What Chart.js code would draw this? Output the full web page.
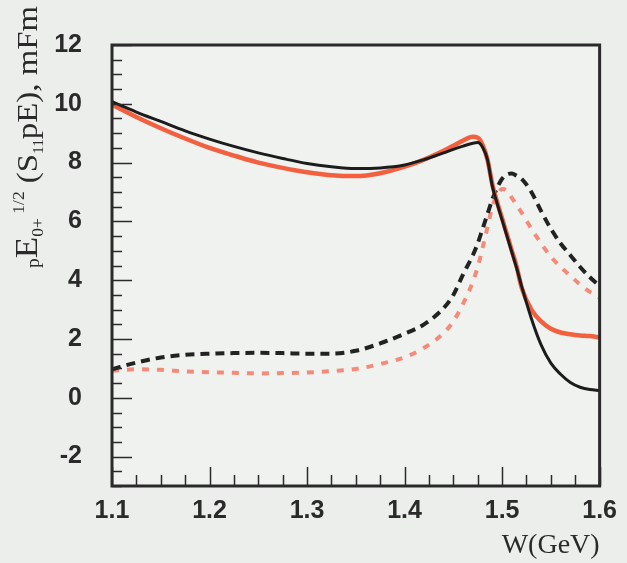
<!DOCTYPE html>
<html lang="en">
<head>
<meta charset="UTF-8">
<title>E0+ multipole near the S11 resonance</title>
<style>
  body{margin:0;background:#eceeec}
  #wrap{width:627px;height:563px}
</style>
<script src="https://cdn.jsdelivr.net/npm/chart.js"></script>
</head>
<body>
<div id="wrap"><canvas id="c"></canvas></div>
<script>
// W in GeV, shared by all four curves
const W = [1.10,1.125,1.15,1.175,1.20,1.225,1.25,1.275,1.30,1.325,1.35,1.375,1.40,1.42,1.44,1.45,1.46,1.47,1.475,1.48,1.485,1.49,1.495,1.50,1.505,1.51,1.515,1.52,1.53,1.54,1.55,1.56,1.57,1.58,1.59,1.60];

// solid = real part, dashed = imaginary part (mFm)
const blackSolid = [10.07,9.72,9.40,9.08,8.80,8.55,8.33,8.14,7.97,7.86,7.80,7.82,7.92,8.10,8.33,8.45,8.56,8.66,8.68,8.52,8.10,7.20,6.60,6.05,5.50,4.95,4.40,3.80,2.70,1.80,1.18,0.80,0.52,0.36,0.28,0.25];
const redSolid   = [9.97,9.55,9.17,8.82,8.50,8.24,8.00,7.82,7.67,7.57,7.54,7.64,7.86,8.10,8.40,8.57,8.75,8.88,8.85,8.60,8.10,7.25,6.65,6.10,5.55,5.00,4.45,3.75,3.00,2.60,2.35,2.22,2.16,2.12,2.10,2.05];
const blackDash  = [0.97,1.20,1.37,1.46,1.50,1.52,1.53,1.52,1.50,1.50,1.60,1.85,2.18,2.50,3.05,3.50,4.20,4.85,5.25,5.75,6.25,6.75,7.15,7.45,7.60,7.63,7.55,7.45,7.00,6.35,5.75,5.25,4.85,4.45,4.10,3.80];
const redDash    = [0.92,0.97,0.95,0.90,0.87,0.85,0.83,0.84,0.86,0.91,0.98,1.15,1.38,1.70,2.20,2.60,3.20,3.95,4.45,5.10,5.80,6.50,6.90,7.10,7.05,6.80,6.55,6.30,5.75,5.25,4.80,4.45,4.15,3.85,3.60,3.40];

const xTicks = [1.1,1.2,1.3,1.4,1.5,1.6];
const yTicks = [-2,0,2,4,6,8,10,12];

const pts = ys => W.map((w,i) => ({x:w, y:ys[i]}));

const INK = '#2a2a2a';

// plot background, frame, inward ticks and the y axis title
const framePlugin = {
  id: 'frame',
  beforeDatasetsDraw(chart){
    const {ctx, chartArea:a} = chart;
    ctx.save();
    ctx.fillStyle = '#f0f2f0';
    ctx.fillRect(a.left, a.top, a.right-a.left, a.bottom-a.top);
    ctx.restore();
  },
  afterDraw(chart){
    const {ctx, chartArea:a, scales:{x, y}} = chart;
    ctx.save();
    ctx.strokeStyle = INK;
    ctx.lineWidth = 1.5;
    // y ticks every 0.5, long ones on labelled values
    for (let i = 0; i <= 30; i++) {
      const v = -3 + i*0.5;
      const py = Math.round(y.getPixelForValue(v)) + 0.5;
      const len = (v % 2 === 0) ? 20 : 10;
      ctx.beginPath(); ctx.moveTo(a.left, py); ctx.lineTo(a.left+len, py); ctx.stroke();
    }
    // x ticks every 0.025
    for (let i = 0; i <= 20; i++) {
      const v = 1.1 + i*0.025;
      const px = Math.round(x.getPixelForValue(v)) + 0.5;
      const len = (i % 4 === 0) ? 19 : 11;
      ctx.beginPath(); ctx.moveTo(px, a.bottom); ctx.lineTo(px, a.bottom-len); ctx.stroke();
    }
    ctx.lineWidth = 3;
    ctx.strokeRect(a.left, a.top, a.right-a.left, a.bottom-a.top);

    // rotated y title with sub/superscripts
    const parts = [
      {t:'p',        size:18, dy:2},
      {t:'E',        size:32, dy:0},
      {t:'0+',       size:16, dy:6},
      {t:' 1/2',     size:16, dy:-13},
      {t:' (S',      size:30, dy:0},
      {t:'11',       size:14, dy:6},
      {t:'pE), mFm', size:30, dy:0}
    ];
    let total = 0;
    parts.forEach(p => {
      ctx.font = p.size + 'px "Liberation Serif"';
      p.w = ctx.measureText(p.t).width;
      total += p.w;
    });
    ctx.translate(37, 268);
    ctx.rotate(-Math.PI/2);
    ctx.scale(262/total, 1);
    ctx.fillStyle = INK;
    ctx.textBaseline = 'alphabetic';
    let cx = 0;
    parts.forEach(p => {
      ctx.font = p.size + 'px "Liberation Serif"';
      ctx.fillText(p.t, cx, p.dy);
      cx += p.w;
    });
    ctx.restore();
  }
};

const tickFont = {family:'"Liberation Sans", Arial, sans-serif', size:25, weight:'bold'};

new Chart(document.getElementById('c'), {
  type: 'line',
  data: {
    datasets: [
      {data: pts(blackSolid), borderColor:'#1c1c1c', borderWidth:3},
      {data: pts(redSolid),   borderColor:'#f2603f', borderWidth:4.5},
      {data: pts(blackDash),  borderColor:'#222222', borderWidth:4, borderDash:[9,6]},
      {data: pts(redDash),    borderColor:'#f58a78', borderWidth:4, borderDash:[7,8]}
    ]
  },
  options: {
    responsive: true,
    maintainAspectRatio: false,
    animation: false,
    layout: {padding: {left:0, top:36, right:22, bottom:0}},
    elements: {
      point: {radius:0},
      line: {cubicInterpolationMode:'monotone', fill:false, borderCapStyle:'butt'}
    },
    plugins: {legend:{display:false}, tooltip:{enabled:false}},
    scales: {
      x: {
        type: 'linear', min: 1.1, max: 1.6,
        grid: {display:false, drawTicks:false},
        border: {display:false},
        afterBuildTicks: s => { s.ticks = xTicks.map(v => ({value:v})); },
        afterFit: s => { s.height = 77; },
        ticks: {
          color: INK, font: tickFont, padding: 10, maxRotation: 0, autoSkip: false,
          callback: v => Number(v).toFixed(1)
        },
        title: {
          display: true, text: 'W(GeV)', align: 'end', color: INK,
          font: {family:'"Liberation Serif", serif', size:28},
          padding: {top:0, bottom:1}
        }
      },
      y: {
        type: 'linear', min: -3, max: 12,
        grid: {display:false, drawTicks:false},
        border: {display:false},
        afterBuildTicks: s => { s.ticks = yTicks.map(v => ({value:v})); },
        afterFit: s => { s.width = 112; },
        ticks: {color: INK, font: tickFont, padding: 30}
      }
    }
  },
  plugins: [framePlugin]
});
</script>
</body>
</html>
